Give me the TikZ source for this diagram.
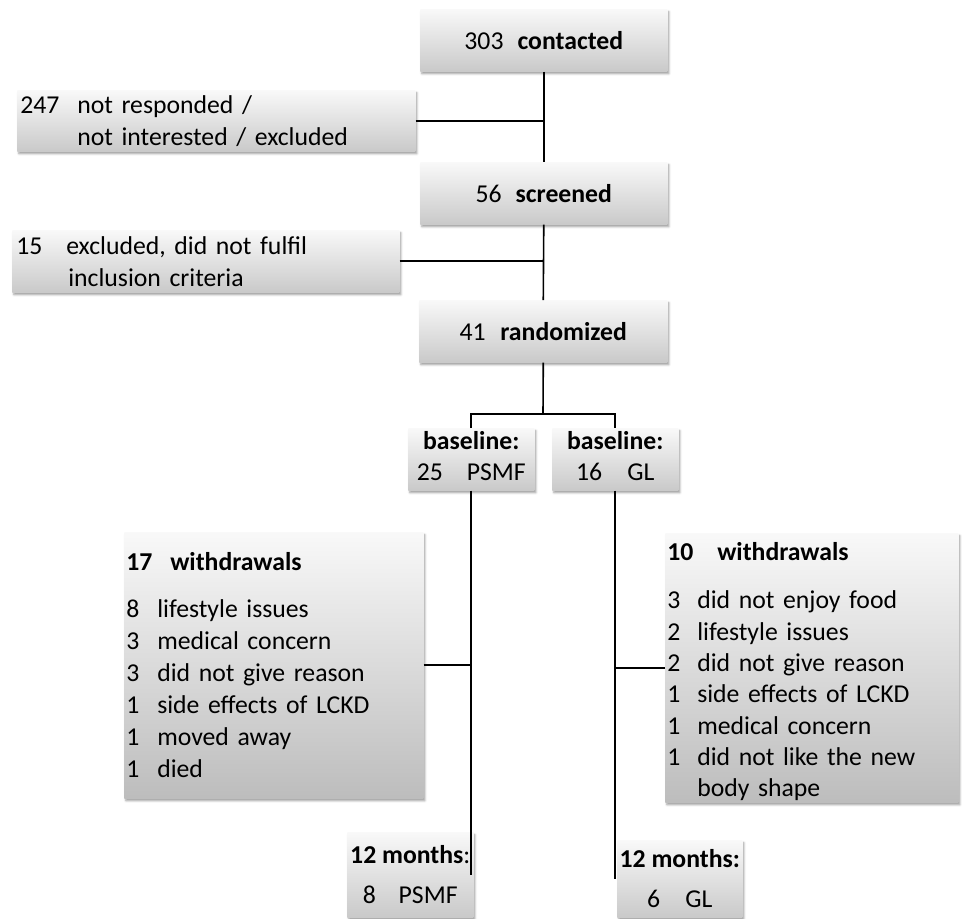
\documentclass[tikz,border=0pt]{standalone}
\usepackage{fontspec}
\setmainfont{Carlito}
\usetikzlibrary{shadows.blur}

\newcommand{\numline}[3]{\makebox[#1][l]{#2}#3}

\begin{document}
\begin{tikzpicture}[x=0.75pt,y=0.75pt,yscale=-1,xscale=1,
  box/.style={draw=none, top color=gray!5, bottom color=gray!42, anchor=north west,
    inner sep=0pt, font=\fontsize{19.3}{24}\selectfont,
    blur shadow={shadow xshift=1.2pt, shadow yshift=-1.8pt, shadow opacity=40, shadow blur radius=1.6pt}},
  listbox/.style={box, bottom color=gray!52, align=left},
  link/.style={line width=1.2pt}]
\useasboundingbox (0,0) rectangle (962,918);

% Main column
\node [box, minimum width=185.25pt, minimum height=46.5pt, align=center] (cont) at (420,9) {303\hspace{10.5pt}\textbf{contacted}};
\node [box, minimum width=185.25pt, minimum height=46.5pt, align=center] (scr) at (420,162) {56\hspace{10.5pt}\textbf{screened}};
\node [box, minimum width=186pt, minimum height=46.5pt, align=center] (rand) at (419,300) {41\hspace{11pt}\textbf{randomized}};

% Excluded before randomization
\node [box, minimum width=298.5pt, minimum height=45.75pt, inner xsep=2.25pt, text width=294pt, align=left] (nresp) at (17,90) {\numline{42.75pt}{247}{not responded /}\\\hspace*{42.75pt}not interested / excluded};
\node [box, minimum width=290.25pt, minimum height=46.5pt, inner xsep=3pt, text width=284.25pt, align=left] (nexcl) at (12,230) {\numline{37.5pt}{15}{excluded, did not fulfil}\\\hspace*{39pt}inclusion criteria};

% Baseline groups
\node [box, minimum width=94.5pt, minimum height=46.5pt, align=center] (basep) at (408,428) {\textbf{baseline:}\\[-1pt]25\hspace{18pt}PSMF\rule[-5pt]{0pt}{0pt}};
\node [box, minimum width=94.5pt, minimum height=46.5pt, align=center] (baseg) at (552,428) {\textbf{baseline:}\\[-1pt]16\hspace{19pt}GL\rule[-5pt]{0pt}{0pt}};

% Withdrawals
\node [listbox, minimum width=224.25pt, minimum height=199.5pt, inner xsep=1.5pt, text width=221.25pt] (wdp) at (124,532) {%
  \textbf{\numline{33pt}{17}{withdrawals}}\\[11.25pt]
  \numline{23.25pt}{8}{lifestyle issues}\\
  \numline{23.25pt}{3}{medical concern}\\
  \numline{23.25pt}{3}{did not give reason}\\
  \numline{23.25pt}{1}{side effects of LCKD}\\
  \numline{23.25pt}{1}{moved away}\\
  \numline{23.25pt}{1}{died}};
\node [listbox, minimum width=219.75pt, minimum height=201.75pt, inner xsep=1.5pt, text width=216.75pt,
  font=\fontsize{19.3}{23.5}\selectfont] (wdg) at (665,533) {%
  \rule{0pt}{19pt}\textbf{\numline{37.5pt}{10}{withdrawals}}\\[13pt]
  \numline{22.5pt}{3}{did not enjoy food}\\
  \numline{22.5pt}{2}{lifestyle issues}\\
  \numline{22.5pt}{2}{did not give reason}\\
  \numline{22.5pt}{1}{side effects of LCKD}\\
  \numline{22.5pt}{1}{medical concern}\\
  \numline{22.5pt}{1}{did not like the new}\\
  \hspace*{22.5pt}body shape};

% 12 months
\node [box, minimum width=94.5pt, minimum height=63.75pt, align=center] (endp) at (347,832) {\textbf{12 months}:\\[6pt]8\hspace{17pt}PSMF};
\node [box, minimum width=93.75pt, minimum height=57.75pt, align=center] (endg) at (617,840) {\textbf{12 months:}\\[6pt]6\hspace{19pt}GL};

% Connectors
\draw [link] (cont.south) -- (scr.north);
\draw [link] (nresp.east) -- (nresp.east -| cont.south);
\draw [link] (scr.south) -- (rand.north);
\draw [link] (nexcl.east) -- (nexcl.east -| scr.south);
\coordinate (split) at (543,414);
\draw [link] (rand.south) -- (split);
\draw [link] (basep.north) |- (split) -| (baseg.north);
\draw [link] (basep.south) -- (basep.south |- endp.east);
\draw [link] (baseg.south) -- (baseg.south |- endg.west);
\draw [link] (wdp.east) -- (wdp.east -| basep.south);
\draw [link] (wdg.west) -- (wdg.west -| baseg.south);

\end{tikzpicture}
\end{document}
